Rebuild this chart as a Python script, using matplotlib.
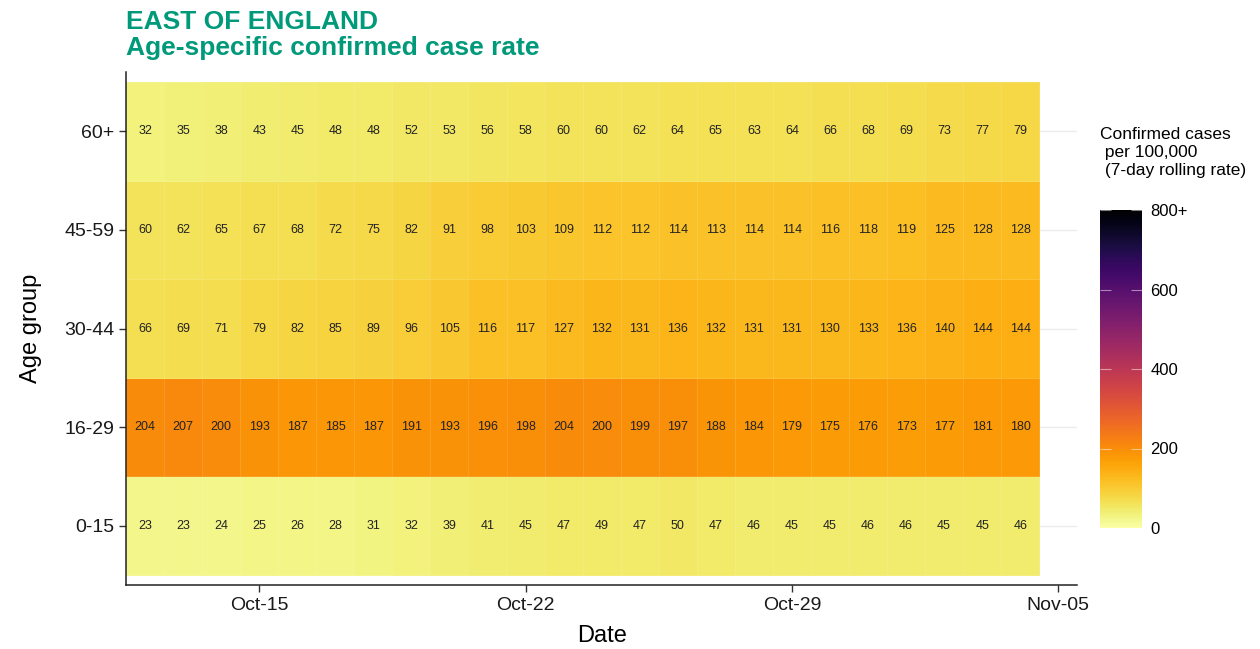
import numpy as np
import pandas as pd
import matplotlib
matplotlib.use("Agg")
import matplotlib.pyplot as plt
import matplotlib.dates as mdates
from matplotlib.colors import Normalize

plt.rcParams['font.family'] = ['Liberation Sans', 'DejaVu Sans']

# data
start_date = "2020-10-12"
n_days = 24
age_groups = ["0-15", "16-29", "30-44", "45-59", "60+"]

rate_0_15 = [23, 23, 24, 25, 26, 28, 31, 32, 39, 41, 45, 47, 49, 47, 50, 47, 46, 45, 45, 46, 46, 45, 45, 46]
rate_16_29 = [204, 207, 200, 193, 187, 185, 187, 191, 193, 196, 198, 204, 200, 199, 197, 188, 184, 179, 175, 176, 173, 177, 181, 180]
rate_30_44 = [66, 69, 71, 79, 82, 85, 89, 96, 105, 116, 117, 127, 132, 131, 136, 132, 131, 131, 130, 133, 136, 140, 144, 144]
rate_45_59 = [60, 62, 65, 67, 68, 72, 75, 82, 91, 98, 103, 109, 112, 112, 114, 113, 114, 114, 116, 118, 119, 125, 128, 128]
rate_60p = [32, 35, 38, 43, 45, 48, 48, 52, 53, 56, 58, 60, 60, 62, 64, 65, 63, 64, 66, 68, 69, 73, 77, 79]

cbar_ticks = [0, 200, 400, 600, 800]
cbar_labels = ["0", "200", "400", "600", "800+"]
x_ticks = ["2020-10-15", "2020-10-22", "2020-10-29", "2020-11-05"]

rates = np.array([rate_0_15, rate_16_29, rate_30_44, rate_45_59, rate_60p])
dates = pd.date_range(start_date, periods=n_days, freq="D")
dnum = mdates.date2num(dates)

green = "#009a7a"
cmap = plt.get_cmap("inferno_r")
norm = Normalize(vmin=0, vmax=800)

fig = plt.figure(figsize=(12.6, 6.49), dpi=100)
ax = fig.add_axes([0.1, 0.0986, 0.755, 0.7904])

# grid lines behind tiles
for i in range(len(age_groups)):
    ax.axhline(i + 1, color="#ebebeb", lw=1.0, zorder=0)

xedges = np.append(dnum - 0.5, dnum[-1] + 0.5)
yedges = np.arange(len(age_groups) + 1) + 0.5
ax.pcolormesh(xedges, yedges, np.clip(rates, 0, 800), cmap=cmap, norm=norm,
              edgecolor=(1, 1, 1, 0.12), linewidth=0.5, zorder=1)

for i in range(len(age_groups)):
    for j in range(n_days):
        ax.text(dnum[j], i + 1, str(rates[i, j]), ha="center", va="center",
                fontsize=9, color="#222222", zorder=3)

ax.set_xlim(dnum[0] - 0.5, mdates.date2num(pd.Timestamp(x_ticks[-1])) + 0.5)
ax.set_ylim(0.4, len(age_groups) + 0.6)
ax.set_xticks(mdates.date2num(pd.to_datetime(x_ticks)))
ax.xaxis.set_major_formatter(mdates.DateFormatter("%b-%d"))
ax.set_yticks(np.arange(1, len(age_groups) + 1))
ax.set_yticklabels(age_groups)
ax.tick_params(axis="both", labelsize=14, length=5, width=1, color="#333333",
               labelcolor="#1a1a1a")
for s in ["top", "right"]:
    ax.spines[s].set_visible(False)
for s in ["left", "bottom"]:
    ax.spines[s].set_linewidth(1.1)
    ax.spines[s].set_color("#222222")

ax.set_xlabel("Date", fontsize=17, labelpad=8)
ax.set_ylabel("Age group", fontsize=17, labelpad=16)

fig.text(0.1, 0.966, "EAST OF ENGLAND", fontsize=19, fontweight="bold",
         color=green, ha="left", va="center")
fig.text(0.1, 0.926, "Age-specific confirmed case rate", fontsize=19,
         fontweight="bold", color=green, ha="left", va="center")

# colour bar
cax = fig.add_axes([1100 / 1260, (649 - 528) / 649, 42 / 1260, 318 / 649])
sm = plt.cm.ScalarMappable(cmap=cmap, norm=norm)
cb = fig.colorbar(sm, cax=cax, ticks=cbar_ticks)
cb.ax.set_yticklabels(cbar_labels)
cb.outline.set_visible(False)
cax.yaxis.set_ticks_position("both")
cax.tick_params(direction="in", length=8, width=0.8, color=(1, 1, 1, 0.5),
                labelsize=12, pad=6, labelright=True, labelleft=False)

fig.text(1100 / 1260, 1 - 127 / 649,
         "Confirmed cases\n per 100,000\n (7-day rolling rate)",
         fontsize=12.5, ha="left", va="top", linespacing=1.25)

fig.savefig("out.png", dpi=100)
